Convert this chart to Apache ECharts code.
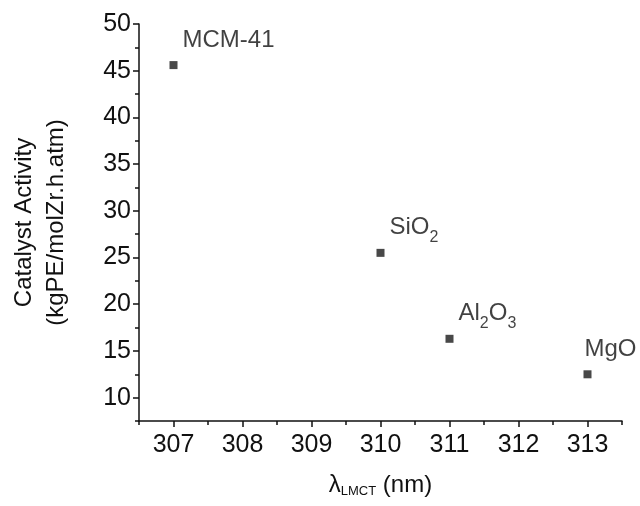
<!DOCTYPE html>
<html>
<head>
<meta charset="utf-8">
<script src="https://cdn.jsdelivr.net/npm/echarts@6/dist/echarts.min.js"></script>
<style>
  html, body { margin: 0; padding: 0; background: #fff; }
  #chart { width: 640px; height: 506px; }
</style>
</head>
<body>
<div id="chart"></div>
<script>
// 数据
const catalysts = ['MCM-41', 'SiO2', 'Al2O3', 'MgO'];
const lambdaNm = [307, 310, 311, 313];
const activity = [45.6, 25.5, 16.3, 12.5];
// 标签(富文本,下标)
const labelText = ['MCM-41', 'SiO{s|2}', 'Al{s|2}O{s|3}', 'MgO'];
// 刻度
const xMajor = [307, 308, 309, 310, 311, 312, 313];
const xMinor = [306.5, 307.5, 308.5, 309.5, 310.5, 311.5, 312.5, 313.5];
const yMajor = [10, 15, 20, 25, 30, 35, 40, 45, 50];
const yMinor = [7.5, 12.5, 17.5, 22.5, 27.5, 32.5, 37.5, 42.5, 47.5];

const font = '"Liberation Sans", Arial, sans-serif';
const ink = '#111';

let chart = echarts.init(document.getElementById('chart'));

const baseX = {
  type: 'value', min: 306.5, max: 313.5, interval: 0.5,
  position: 'bottom', splitLine: { show: false }
};
const baseY = {
  type: 'value', min: 7.5, max: 50, interval: 2.5,
  position: 'left', splitLine: { show: false }
};

chart.setOption({
  animation: false,
  grid: { left: 133, right: 18, top: 24, bottom: 85 },
  xAxis: [
    Object.assign({}, baseX, {
      name: 'λ{s|LMCT} (nm)',
      nameLocation: 'middle',
      nameGap: 52,
      nameTextStyle: {
        fontFamily: font, fontSize: 24, color: ink,
        rich: { s: { fontFamily: font, fontSize: 13, color: ink, padding: [12, 0, 0, 0] } }
      },
      axisLine: { show: true, lineStyle: { color: ink, width: 1.5 } },
      axisTick: { show: true, inside: false, length: 6, customValues: xMajor, lineStyle: { color: ink, width: 1.5 } },
      axisLabel: { customValues: xMajor, margin: 12, fontFamily: font, fontSize: 25, color: ink }
    }),
    Object.assign({}, baseX, {
      // 次刻度
      axisLine: { show: false },
      axisTick: { show: true, inside: false, length: 4, customValues: xMinor, lineStyle: { color: ink, width: 1.5 } },
      axisLabel: { show: false }
    })
  ],
  yAxis: [
    Object.assign({}, baseY, {
      name: 'Catalyst Activity\n(kgPE/molZr.h.atm)',
      nameLocation: 'middle',
      nameGap: 67,
      nameTextStyle: { fontFamily: font, fontSize: 24, color: ink, lineHeight: 32 },
      axisLine: { show: true, lineStyle: { color: ink, width: 1.5 } },
      axisTick: { show: true, inside: false, length: 6, customValues: yMajor, lineStyle: { color: ink, width: 1.5 } },
      axisLabel: { customValues: yMajor, margin: 8, fontFamily: font, fontSize: 25, color: ink }
    }),
    Object.assign({}, baseY, {
      // 次刻度
      axisLine: { show: false },
      axisTick: { show: true, inside: false, length: 4, customValues: yMinor, lineStyle: { color: ink, width: 1.5 } },
      axisLabel: { show: false }
    })
  ],
  series: [
    {
      type: 'scatter',
      xAxisIndex: 0,
      yAxisIndex: 0,
      symbol: 'rect',
      symbolSize: 8,
      itemStyle: { color: '#1a1a1a' },
      data: lambdaNm.map((x, i) => ({
        value: [x, activity[i]],
        name: catalysts[i],
        // MgO 的标签靠近右边界,向左挪一点
        label: catalysts[i] === 'MgO' ? { offset: [-12, -25] } : undefined
      })),
      label: {
        show: true,
        position: 'right',
        formatter: p => labelText[p.dataIndex],
        offset: [0, -25],
        fontFamily: font,
        fontSize: 24,
        color: ink,
        rich: { s: { fontFamily: font, fontSize: 16, color: ink, padding: [20, 0, 0, 0] } }
      }
    }
  ]
});
</script>
</body>
</html>
